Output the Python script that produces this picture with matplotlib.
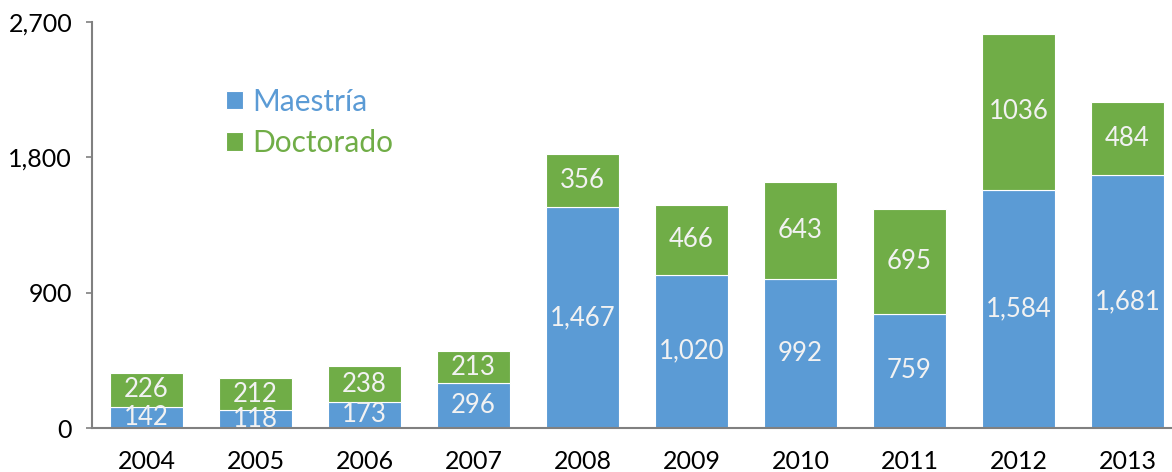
import numpy as np
import matplotlib.pyplot as plt

plt.rcParams['font.family'] = ['Lato', 'DejaVu Sans']

years = ['2004', '2005', '2006', '2007', '2008', '2009', '2010', '2011', '2012', '2013']
maestria = [142, 118, 173, 296, 1467, 1020, 992, 759, 1584, 1681]
doctorado = [226, 212, 238, 213, 356, 466, 643, 695, 1036, 484]

c_blue = '#5B9BD5'
c_green = '#70AD47'

fig = plt.figure(figsize=(11.72, 4.72), dpi=100)
ax = fig.add_axes([92/1172, 44/472, 1090/1172, 406/472])

x = np.arange(len(years))
w = 0.67
b1 = ax.bar(x, maestria, w, color=c_blue, edgecolor='white', linewidth=0.8, label='Maestría')
b2 = ax.bar(x, doctorado, w, bottom=maestria, color=c_green, edgecolor='white', linewidth=0.8, label='Doctorado')

ax.bar_label(b1, labels=[f'{v:,}' for v in maestria], label_type='center',
             color='#F2F2F2', fontsize=18.5)
ax.bar_label(b2, labels=[str(v) for v in doctorado], label_type='center',
             color='#F2F2F2', fontsize=18.5)

ax.set_xlim(-0.5, 9.5)
ax.set_ylim(0, 2700)
ax.set_yticks([0, 900, 1800, 2700])
ax.set_yticklabels(['0', '900', '1,800', '2,700'])
ax.set_xticks(x)
ax.set_xticklabels(years)
ax.tick_params(axis='y', length=4.3, width=1.2, color='#808080', pad=10, labelsize=18)
ax.tick_params(axis='x', length=0, pad=16, labelsize=18)

for s in ['top', 'right']:
    ax.spines[s].set_visible(False)
for s in ['left', 'bottom']:
    ax.spines[s].set_color('#808080')
    ax.spines[s].set_linewidth(1.5)

leg = ax.legend(loc='upper left', bbox_to_anchor=(0.123, 0.838), frameon=False,
                fontsize=21.5, handlelength=0.57, handleheight=0.57, handletextpad=0.3,
                labelspacing=0.45, borderaxespad=0, borderpad=0)
for t, c in zip(leg.get_texts(), [c_blue, c_green]):
    t.set_color(c)

fig.savefig('out.png', dpi=100)
